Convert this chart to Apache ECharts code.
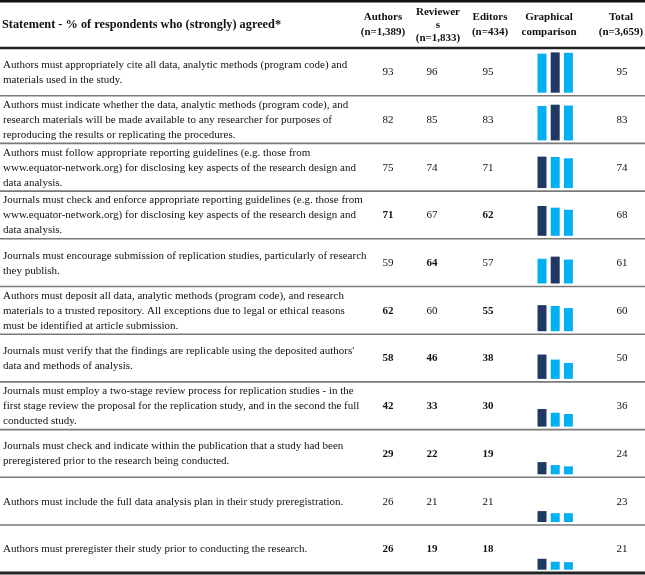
<!DOCTYPE html>
<html>
<head>
<meta charset="utf-8">
<script src="https://cdn.jsdelivr.net/npm/echarts@6/dist/echarts.min.js"></script>
<style>
html,body{margin:0;padding:0;background:#fff;}
#chart{width:645px;height:575px;}
</style>
</head>
<body>
<div id="chart"></div>
<script>
const headerTitle = "Statement - % of respondents who (strongly) agreed*";
const columnHeaders = [
  ["Authors", "(n=1,389)"],
  ["Reviewer", "s", "(n=1,833)"],
  ["Editors", "(n=434)"],
  ["Graphical", "comparison"],
  ["Total", "(n=3,659)"]
];
const groups = ["Authors", "Reviewers", "Editors"];
const statements = [
  ["Authors must appropriately cite all data, analytic methods (program code) and", "materials used in the study."],
  ["Authors must indicate whether the data, analytic methods (program code), and", "research materials will be made available to any researcher for purposes of", "reproducing the results or replicating the procedures."],
  ["Authors must follow appropriate reporting guidelines (e.g. those from", "www.equator-network.org) for disclosing key aspects of the research design and", "data analysis."],
  ["Journals must check and enforce appropriate reporting guidelines (e.g. those from", "www.equator-network.org) for disclosing key aspects of the research design and", "data analysis."],
  ["Journals must encourage submission of replication studies, particularly of research", "they publish."],
  ["Authors must deposit all data, analytic methods (program code), and research", "materials to a trusted repository. All exceptions due to legal or ethical reasons", "must be identified at article submission."],
  ["Journals must verify that the findings are replicable using the deposited authors'", "data and methods of analysis."],
  ["Journals must employ a two-stage review process for replication studies - in the", "first stage review the proposal for the replication study, and in the second the full", "conducted study."],
  ["Journals must check and indicate within the publication that a study had been", "preregistered prior to the research being conducted."],
  ["Authors must include the full data analysis plan in their study preregistration."],
  ["Authors must preregister their study prior to conducting the research."]
];
const authors   = [93, 82, 75, 71, 59, 62, 58, 42, 29, 26, 26];
const reviewers = [96, 85, 74, 67, 64, 60, 46, 33, 22, 21, 19];
const editors   = [95, 83, 71, 62, 57, 55, 38, 30, 19, 21, 18];
const total     = [95, 83, 74, 68, 61, 60, 50, 36, 24, 23, 21];
const authorsBold   = [0, 0, 0, 1, 0, 1, 1, 1, 1, 0, 1];
const reviewersBold = [0, 0, 0, 0, 1, 0, 1, 1, 1, 0, 1];
const editorsBold   = [0, 0, 0, 1, 0, 1, 1, 1, 1, 0, 1];

// ---- layout ----
const FONT = "Liberation Serif";
const FS = 11;
const LH = 15;
const headerBottom = 48;
const rowH = 47.7;
const numX = [388, 432, 488];
const totalX = 622;
const headX = [383, 438, 490, 549, 621];
const barGridLeft = 535.4, barGridWidth = 39.6, barGridHeight = 42, barBottomPad = 3;
const DARK = '#1f3864', LIGHT = '#00b0f0';

const graphic = [];
function txt(x, y, s, opts) {
  graphic.push({
    type: 'text', x: x, y: y, silent: true,
    style: Object.assign({
      text: s, fontFamily: FONT, fontSize: FS, fontWeight: (opts && opts.bold) ? 'bold' : 'normal',
      fill: '#111', align: 'left', verticalAlign: 'middle'
    }, opts && opts.style || {})
  });
}
function hline(y, w, color) {
  graphic.push({ type: 'line', silent: true, shape: { x1: 0, y1: y, x2: 645, y2: y },
    style: { stroke: color, lineWidth: w } });
}

// header
txt(2, 25, headerTitle, { bold: true, style: { fontSize: 12.3 } });
columnHeaders.forEach((lines, i) => {
  const n = lines.length;
  const step = n === 3 ? 13 : LH;
  const y0 = 25 - (n - 1) * step / 2;
  lines.forEach((l, k) => txt(headX[i], y0 + k * step, l, { bold: true, style: { align: 'center' } }));
});

// rows
const grids = [], xAxes = [], yAxes = [], series = [];
const numCols = [authors, reviewers, editors];
const boldCols = [authorsBold, reviewersBold, editorsBold];
statements.forEach((lines, r) => {
  const top = headerBottom + r * rowH;
  const bottom = top + rowH;
  const mid = (top + bottom) / 2 + 0.5;
  const n = lines.length;
  lines.forEach((l, k) => txt(3, mid - (n - 1) * LH / 2 + k * LH, l));
  numCols.forEach((col, c) => txt(numX[c], mid, String(col[r]), { bold: !!boldCols[c][r], style: { align: 'center' } }));
  txt(totalX, mid, String(total[r]), { style: { align: 'center' } });
  if (r < statements.length - 1) hline(bottom, 1.6, '#7a7a7a');

  grids.push({ left: barGridLeft, width: barGridWidth, top: bottom - barBottomPad - barGridHeight, height: barGridHeight, containLabel: false });
  xAxes.push({ type: 'category', gridIndex: r, data: groups, show: false });
  yAxes.push({ type: 'value', gridIndex: r, min: 0, max: 100, show: false });
  const vals = [authors[r], reviewers[r], editors[r]];
  const mx = Math.max.apply(null, vals);
  series.push({
    type: 'bar', xAxisIndex: r, yAxisIndex: r, barWidth: 9, silent: true, animation: false,
    data: vals.map(v => ({ value: v, itemStyle: { color: v === mx ? DARK : LIGHT } }))
  });
});
hline(1.2, 2.5, '#111');
hline(headerBottom, 2.5, '#222');
hline(573, 3, '#222');

const chart = echarts.init(document.getElementById('chart'), null, { renderer: 'canvas' });
chart.setOption({
  animation: false,
  backgroundColor: '#fff',
  grid: grids, xAxis: xAxes, yAxis: yAxes, series: series,
  graphic: graphic
});
</script>
</body>
</html>
